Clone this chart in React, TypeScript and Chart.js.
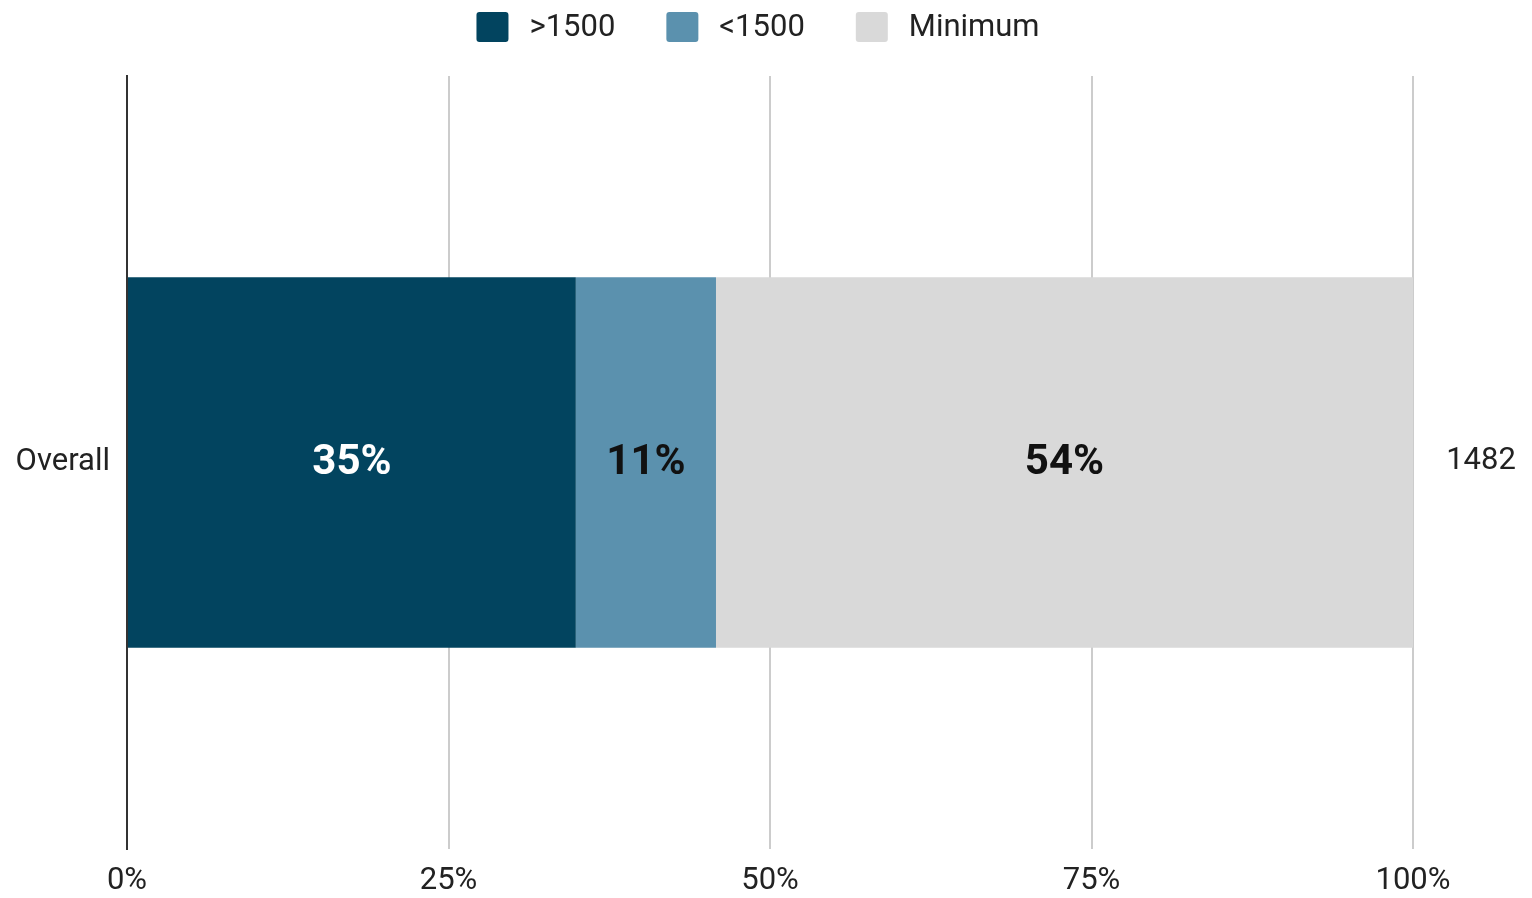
import React, { useEffect, useRef } from "react";
import { Chart, registerables } from "chart.js";

Chart.register(...registerables);

const categories = ["Overall"];
const seriesNames = [">1500", "<1500", "Minimum"];
const gt1500 = [34.9];
const lt1500 = [10.9];
const minimum = [54.2];
const totals = [1482];
const xTicks = [0, 25, 50, 75, 100];

const colors = ["#02445F", "#5B91AE", "#D9D9D9"];
const labelColors = ["#FFFFFF", "#111111", "#111111"];
const FONT = "Roboto, 'Noto Sans', sans-serif";

const valueLabelPlugin = {
  id: "valueLabels",
  afterDatasetsDraw(chart: any) {
    const ctx = chart.ctx;
    ctx.save();
    ctx.font = `bold 42px ${FONT}`;
    ctx.textAlign = "center";
    ctx.textBaseline = "middle";
    chart.data.datasets.forEach((ds: any, di: number) => {
      const meta = chart.getDatasetMeta(di);
      meta.data.forEach((el: any, i: number) => {
        const v = ds.data[i];
        const p = el.getProps(["x", "y", "base"], true);
        ctx.fillStyle = labelColors[di];
        ctx.fillText(Math.round(v) + "%", (p.x + p.base) / 2, p.y + 1);
      });
    });
    // totals to the right of the bars
    const last = chart.getDatasetMeta(chart.data.datasets.length - 1);
    ctx.font = `31px ${FONT}`;
    ctx.fillStyle = "#222222";
    last.data.forEach((el: any, i: number) => {
      ctx.fillText(String(totals[i]), chart.chartArea.right + 68, el.y - 1);
    });
    ctx.restore();
  },
};

const legendPlugin = {
  id: "customLegend",
  afterDraw(chart: any) {
    const ctx = chart.ctx;
    ctx.save();
    ctx.font = `31px ${FONT}`;
    ctx.textBaseline = "middle";
    ctx.textAlign = "left";
    const boxW = 32, boxH = 30, gap = 21, spacing = 51;
    const widths = seriesNames.map((n) => boxW + gap + ctx.measureText(n).width);
    const total = widths.reduce((a, b) => a + b, 0) + spacing * (widths.length - 1);
    let x = 758 - total / 2;
    const cy = 27;
    seriesNames.forEach((n, i) => {
      ctx.fillStyle = colors[i];
      ctx.beginPath();
      (ctx as any).roundRect(x, cy - boxH / 2, boxW, boxH, 3);
      ctx.fill();
      ctx.fillStyle = "#222222";
      ctx.fillText(n, x + boxW + gap, cy + 1);
      x += widths[i] + spacing;
    });
    ctx.restore();
  },
};

export default function App() {
  const ref = useRef<HTMLCanvasElement | null>(null);
  useEffect(() => {
    if (!ref.current) return;
    const series = [gt1500, lt1500, minimum];
    const chart = new Chart(ref.current, {
      type: "bar",
      data: {
        labels: categories,
        datasets: series.map((d, i) => ({
          label: seriesNames[i],
          data: d,
          backgroundColor: colors[i],
          borderWidth: 0,
          barPercentage: 0.479,
          categoryPercentage: 1,
        })),
      },
      options: {
        indexAxis: "y",
        animation: false,
        responsive: true,
        maintainAspectRatio: false,
        layout: { padding: { top: 76, right: 119, left: 0, bottom: 0 } },
        plugins: {
          legend: { display: false },
          tooltip: { enabled: false },
        },
        scales: {
          x: {
            stacked: true,
            min: 0,
            max: 100,
            afterBuildTicks: (scale: any) => {
              scale.ticks = xTicks.map((v) => ({ value: v }));
            },
            afterFit: (scale: any) => {
              scale.height = 49;
            },
            ticks: {
              callback: (v: any) => v + "%",
              font: { family: FONT, size: 31 },
              color: "#222222",
              padding: 14,
              maxRotation: 0,
            },
            grid: {
              drawTicks: false,
              color: (c: any) => (c.index === 0 ? "rgba(0,0,0,0)" : "#CCCCCC"),
              lineWidth: 2,
            },
            border: { display: false },
          },
          y: {
            stacked: true,
            afterFit: (scale: any) => {
              scale.width = 127;
            },
            ticks: {
              font: { family: FONT, size: 31 },
              color: "#222222",
              padding: 17,
            },
            grid: { display: false, drawTicks: false },
            border: { display: true, color: "#333333", width: 2 },
          },
        },
      } as any,
      plugins: [valueLabelPlugin, legendPlugin],
    });
    return () => chart.destroy();
  }, []);
  return (
    <div style={{ position: "absolute", left: 0, top: 0, width: 1532, height: 898, background: "#fff" }}>
      <canvas ref={ref} />
    </div>
  );
}
